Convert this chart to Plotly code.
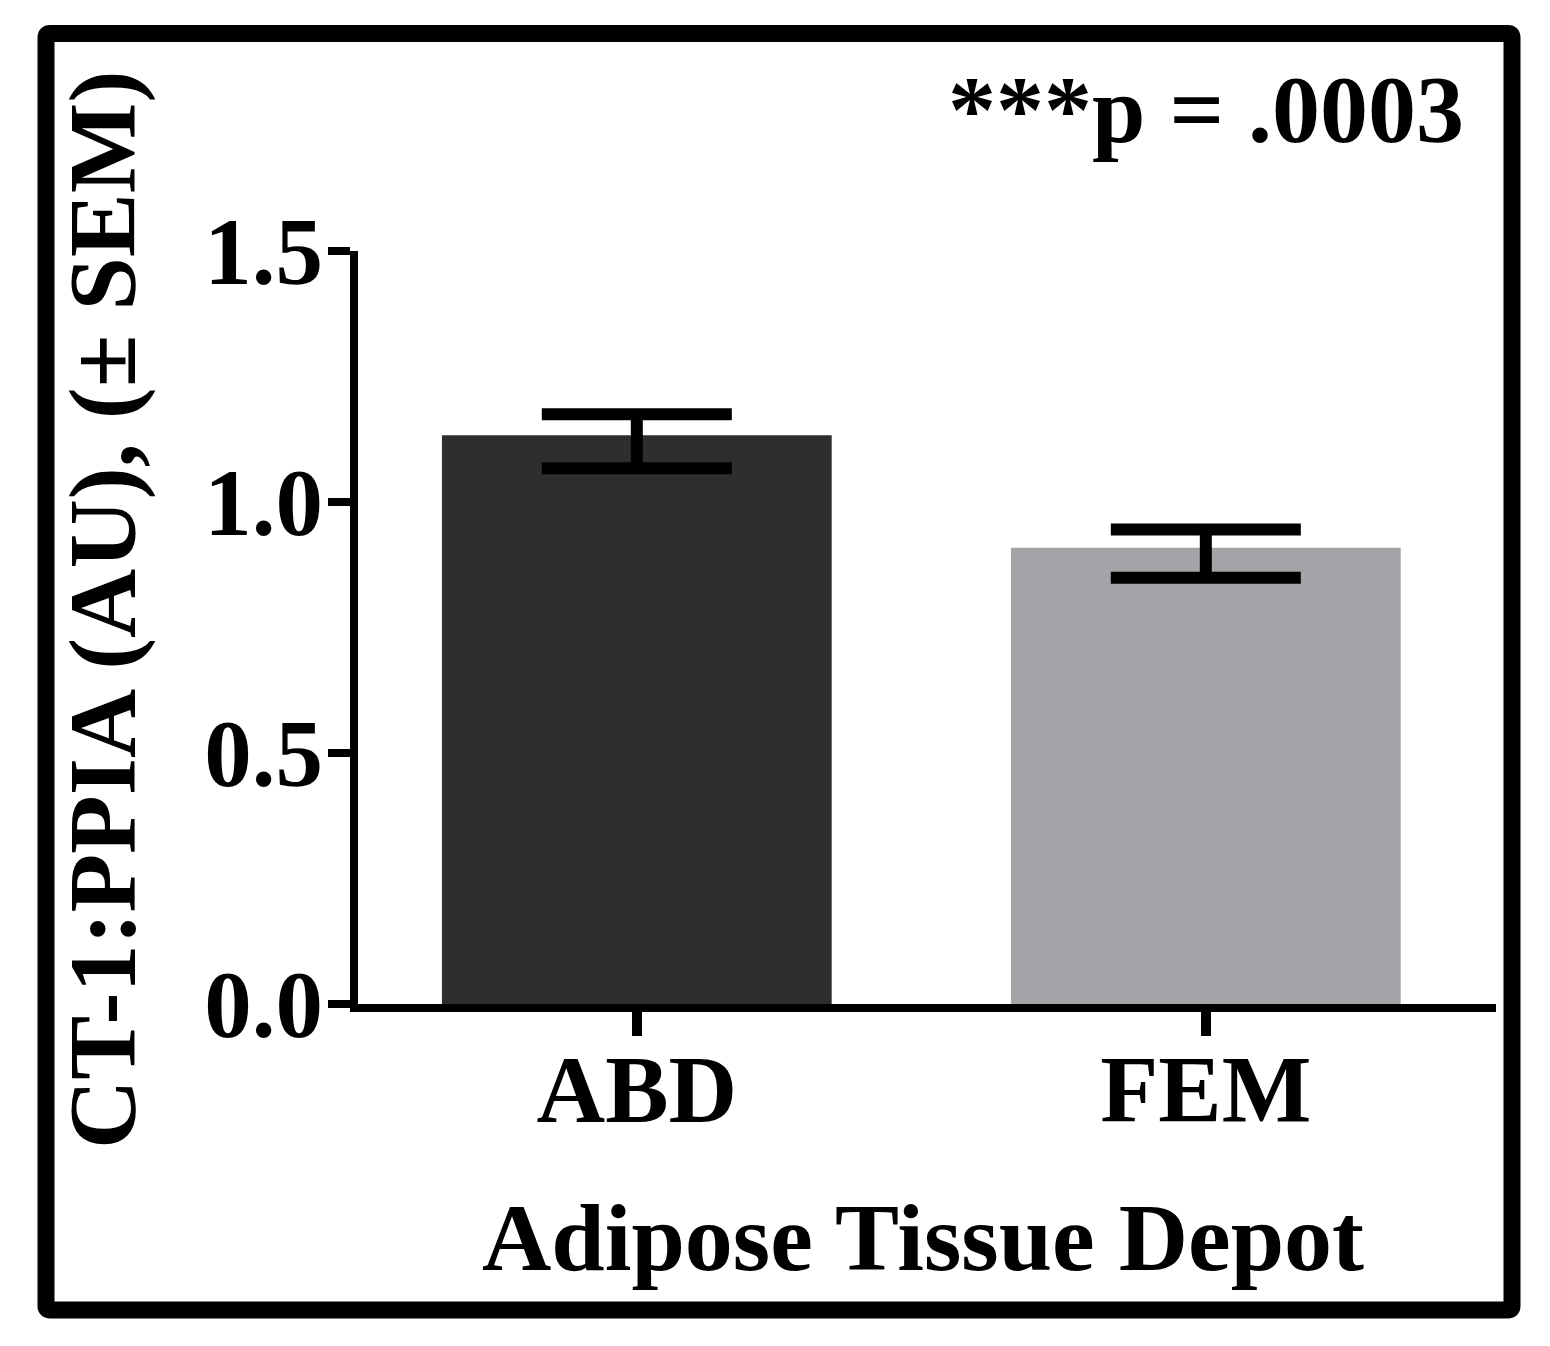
import plotly.graph_objects as go

# values
depots = ["ABD", "FEM"]
ct1_ppia = [1.133, 0.909]
sem_upper = [0.042, 0.036]
sem_lower = [0.066, 0.060]
bar_colors = ["#2e2e2e", "#a3a4a7"]
y_ticks = [0.0, 0.5, 1.0, 1.5]

W, H = 1550, 1346
PAGE = 8  # default body margin of the html page
left, right, top, bottom = 358 - PAGE, 1496 - PAGE, 251 - PAGE, 1004 - PAGE


def px_x(px):
    return (px - PAGE - left) / (right - left)


def px_y(py):
    return (bottom - (py - PAGE)) / (bottom - top)


serif = dict(family="Liberation Serif", color="black", weight="bold")

fig = go.Figure()
fig.add_trace(
    go.Bar(
        x=depots,
        y=ct1_ppia,
        width=0.685,
        marker=dict(color=bar_colors, line=dict(width=0)),
        error_y=dict(
            type="data",
            symmetric=False,
            array=sem_upper,
            arrayminus=sem_lower,
            color="black",
            thickness=12,
            width=95,
        ),
    )
)

fig.update_layout(
    width=W,
    height=H,
    margin=dict(l=left, r=W - right, t=top, b=H - bottom, pad=0),
    paper_bgcolor="white",
    plot_bgcolor="white",
    showlegend=False,
    font=dict(serif, size=95),
)
fig.update_xaxes(
    range=[-0.49, 1.51],
    showline=True,
    linecolor="black",
    linewidth=8,
    ticks="outside",
    ticklen=24,
    tickwidth=10,
    tickcolor="black",
    tickfont=dict(serif, size=95),
    ticklabelstandoff=-28,
    showgrid=False,
    zeroline=False,
)
fig.update_yaxes(
    range=[0, 1.5],
    tickvals=y_ticks,
    tickformat=".1f",
    showline=True,
    linecolor="black",
    linewidth=8,
    ticks="outside",
    ticklen=22,
    tickwidth=8,
    tickcolor="black",
    tickfont=dict(serif, size=95),
    ticklabelstandoff=-14,
    showgrid=False,
    zeroline=False,
)

fig.add_annotation(
    text="CT-1:PPIA (AU), (± SEM)",
    xref="paper", yref="paper",
    x=px_x(102), y=px_y(610),
    xanchor="center", yanchor="middle",
    textangle=-90,
    showarrow=False,
    font=dict(serif, size=96),
)
fig.add_annotation(
    text="Adipose Tissue Depot",
    xref="paper", yref="paper",
    x=px_x(923), y=px_y(1237),
    xanchor="center", yanchor="middle",
    showarrow=False,
    font=dict(serif, size=96),
)
fig.add_annotation(
    text="***p = .0003",
    xref="paper", yref="paper",
    x=px_x(1466), y=px_y(110),
    xanchor="right", yanchor="middle",
    showarrow=False,
    font=dict(serif, size=96),
)

# outer frame around the whole figure, with slightly rounded corners
fx0, fx1, fy0, fy1, r = 46, 1512, 33.5, 1310, 4
frame = (
    f"M {px_x(fx0 + r)},{px_y(fy0)} L {px_x(fx1 - r)},{px_y(fy0)} "
    f"Q {px_x(fx1)},{px_y(fy0)} {px_x(fx1)},{px_y(fy0 + r)} "
    f"L {px_x(fx1)},{px_y(fy1 - r)} "
    f"Q {px_x(fx1)},{px_y(fy1)} {px_x(fx1 - r)},{px_y(fy1)} "
    f"L {px_x(fx0 + r)},{px_y(fy1)} "
    f"Q {px_x(fx0)},{px_y(fy1)} {px_x(fx0)},{px_y(fy1 - r)} "
    f"L {px_x(fx0)},{px_y(fy0 + r)} "
    f"Q {px_x(fx0)},{px_y(fy0)} {px_x(fx0 + r)},{px_y(fy0)} Z"
)
fig.add_shape(
    type="path",
    xref="paper", yref="paper",
    path=frame,
    line=dict(color="black", width=17),
    fillcolor="rgba(0,0,0,0)",
)

fig.write_html("out.html")
